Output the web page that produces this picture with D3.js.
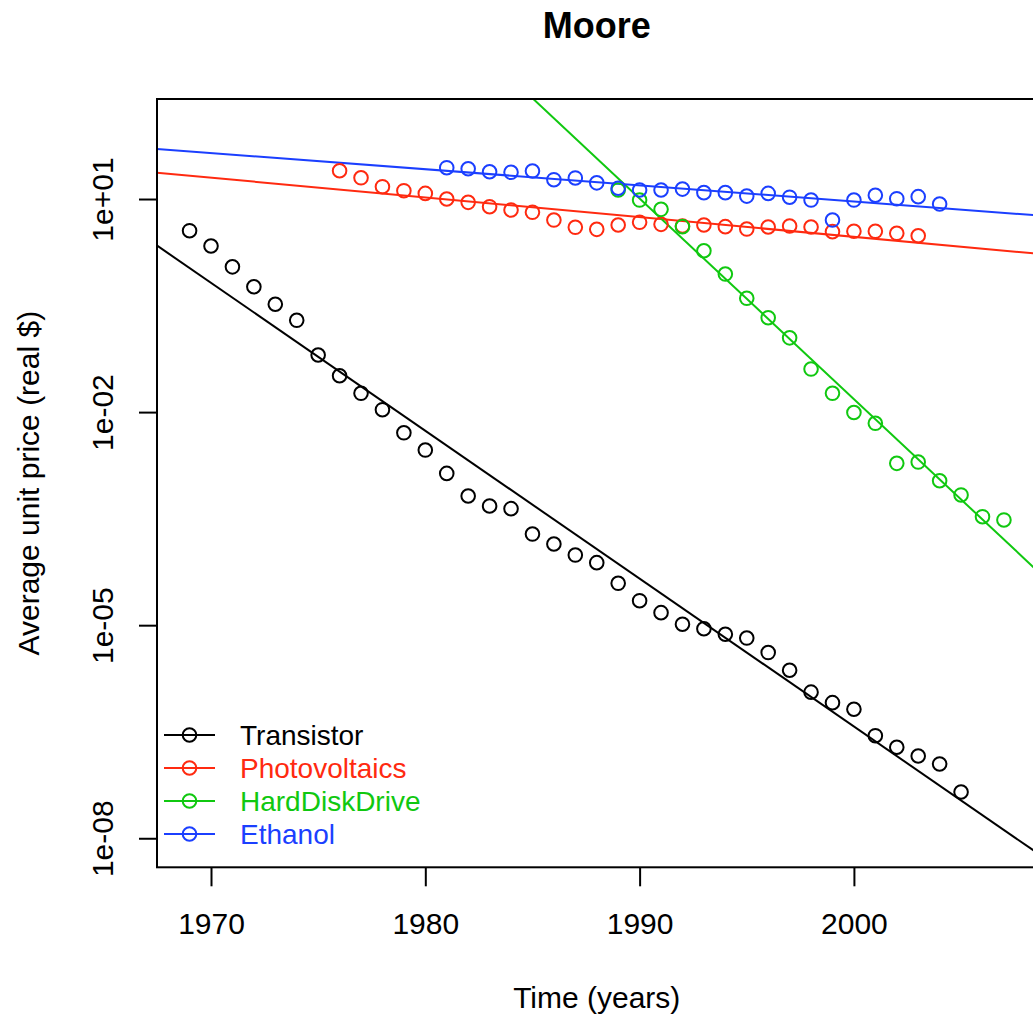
<!DOCTYPE html>
<html>
<head>
<meta charset="utf-8">
<script src="https://cdn.jsdelivr.net/npm/d3@7"></script>
<style>
  html, body { margin: 0; padding: 0; background: #fff; }
  svg { display: block; font-family: "Liberation Sans", Arial, Helvetica, sans-serif; }
</style>
</head>
<body>
<svg id="chart" width="1033" height="1017"></svg>
<script>
// ---------- data ----------
const seriesNames = ["Transistor", "Photovoltaics", "HardDiskDrive", "Ethanol"];
const seriesColors = ["#000000", "#ff2a10", "#10c810", "#1b3fff"];

const transistorYears = d3.range(1969, 2006);
const transistorPrice = [3.58, 2.18, 1.11, 0.582, 0.330, 0.196, 0.0637, 0.0325, 0.0184, 0.0108,
  0.00511, 0.00292, 0.00137, 6.59e-4, 4.76e-4, 4.37e-4, 1.92e-4, 1.39e-4, 9.72e-5, 7.59e-5,
  3.89e-5, 2.21e-5, 1.50e-5, 1.03e-5, 8.91e-6, 7.45e-6, 6.59e-6, 4.12e-6, 2.32e-6, 1.14e-6,
  8.11e-7, 6.55e-7, 2.78e-7, 1.91e-7, 1.44e-7, 1.11e-7, 4.48e-8];

const pvYears = d3.range(1976, 2004);
const pvPrice = [25.0, 19.9, 14.9, 13.1, 12.0, 10.0, 8.98, 7.80, 7.00, 6.50,
  5.06, 4.00, 3.74, 4.31, 4.70, 4.40, 4.17, 4.31, 4.08, 3.78,
  4.04, 4.17, 4.04, 3.47, 3.51, 3.51, 3.29, 3.04];

const hddYears = d3.range(1989, 2008);
const hddPrice = [13.4, 9.68, 7.16, 4.08, 1.87, 0.879, 0.400, 0.213, 0.111, 0.0404,
  0.0184, 0.00987, 0.00695, 0.00190, 0.00198, 0.00108, 6.81e-4, 3.37e-4, 3.03e-4];

const ethanolYears = d3.range(1981, 2005);
const ethanolPrice = [27.6, 26.7, 24.2, 23.8, 24.8, 18.7, 19.8, 16.9, 14.2, 13.4,
  13.4, 13.8, 12.3, 12.3, 11.0, 12.0, 10.6, 9.68, 5.06, 9.68,
  11.3, 10.1, 10.8, 8.51];

// fitted trend lines (price at 1960 and at 2010)
const trendYears = [1960, 2010];
const transistorTrend = [79.8, 3.10e-9];
const pvTrend = [37.8, 1.55];
const hddTrend = [3.03e9, 2.28e-5];
const ethanolTrend = [74.8, 5.46];

const xTickValues = [1970, 1980, 1990, 2000];
const xTickLabels = ["1970", "1980", "1990", "2000"];
const yTickValues = [10, 1e-2, 1e-5, 1e-8];
const yTickLabels = ["1e+01", "1e-02", "1e-05", "1e-08"];

const titleText = "Moore";
const xTitle = "Time (years)";
const yTitle = "Average unit price (real $)";

const series = [
  { years: transistorYears, price: transistorPrice, trend: transistorTrend },
  { years: pvYears, price: pvPrice, trend: pvTrend },
  { years: hddYears, price: hddPrice, trend: hddTrend },
  { years: ethanolYears, price: ethanolPrice, trend: ethanolTrend }
].map((s, i) => ({ ...s, name: seriesNames[i], color: seriesColors[i] }));

// ---------- layout ----------
const plot = { left: 157, right: 1036.5, top: 99, bottom: 867.3 };
const svg = d3.select("#chart");

const x = d3.scaleLinear().domain([1967.48, 2008.52]).range([plot.left, plot.right]);
const y = d3.scaleLog().domain([3.9e-9, 256]).range([plot.bottom, plot.top]);

svg.append("defs").append("clipPath").attr("id", "clip")
  .append("rect")
  .attr("x", plot.left).attr("y", plot.top)
  .attr("width", plot.right - plot.left).attr("height", plot.bottom - plot.top);

// trend lines
const lineGen = d3.line().x(d => x(d[0])).y(d => y(d[1]));
const gLines = svg.append("g").attr("clip-path", "url(#clip)");
series.forEach(s => {
  gLines.append("path")
    .attr("d", lineGen(trendYears.map((yr, i) => [yr, s.trend[i]])))
    .attr("fill", "none").attr("stroke", s.color).attr("stroke-width", 2);
});

// points
const gPts = svg.append("g").attr("clip-path", "url(#clip)");
series.forEach(s => {
  gPts.selectAll(null)
    .data(s.years.map((yr, i) => [yr, s.price[i]]))
    .join("circle")
    .attr("cx", d => x(d[0])).attr("cy", d => y(d[1]))
    .attr("r", 6.8).attr("fill", "none")
    .attr("stroke", s.color).attr("stroke-width", 2);
});

// frame
svg.append("rect")
  .attr("x", plot.left).attr("y", plot.top)
  .attr("width", plot.right - plot.left).attr("height", plot.bottom - plot.top)
  .attr("fill", "none").attr("stroke", "#000").attr("stroke-width", 2);

// x axis
const xAxis = d3.axisBottom(x).tickValues(xTickValues)
  .tickFormat((d, i) => xTickLabels[i]).tickSize(19).tickSizeOuter(0);
const gx = svg.append("g").attr("transform", `translate(0,${plot.bottom})`).call(xAxis);
gx.select(".domain").remove();
gx.selectAll(".tick line").attr("stroke", "#000").attr("stroke-width", 2);
gx.selectAll(".tick text")
  .attr("y", 934 - plot.bottom).attr("dy", null)
  .attr("font-size", 30).attr("fill", "#000")
  .attr("font-family", "Liberation Sans, Arial, sans-serif");

// y axis
const yAxis = d3.axisLeft(y).tickValues(yTickValues)
  .tickFormat((d, i) => yTickLabels[i]).tickSize(18).tickSizeOuter(0);
const gy = svg.append("g").attr("transform", `translate(${plot.left},0)`).call(yAxis);
gy.select(".domain").remove();
gy.selectAll(".tick line").attr("stroke", "#000").attr("stroke-width", 2);
gy.selectAll(".tick text")
  .attr("x", null).attr("dy", null)
  .attr("transform", `translate(${113 - plot.left},0) rotate(-90)`)
  .attr("text-anchor", "middle")
  .attr("font-size", 30).attr("fill", "#000")
  .attr("font-family", "Liberation Sans, Arial, sans-serif");

// titles
const cx = (plot.left + plot.right) / 2;
svg.append("text").attr("x", cx).attr("y", 37.5)
  .attr("text-anchor", "middle").attr("font-size", 36).attr("font-weight", "bold")
  .text(titleText);
svg.append("text").attr("x", cx).attr("y", 1008)
  .attr("text-anchor", "middle").attr("font-size", 30)
  .text(xTitle);
svg.append("text")
  .attr("transform", `translate(39,${(plot.top + plot.bottom) / 2}) rotate(-90)`)
  .attr("text-anchor", "middle").attr("font-size", 30)
  .text(yTitle);

// legend
const legendRowY = [735, 768, 801, 834];
const gLeg = svg.append("g");
series.forEach((s, i) => {
  const ly = legendRowY[i];
  gLeg.append("line").attr("x1", 164).attr("x2", 215).attr("y1", ly).attr("y2", ly)
    .attr("stroke", s.color).attr("stroke-width", 2);
  gLeg.append("circle").attr("cx", 189.5).attr("cy", ly).attr("r", 6.8)
    .attr("fill", "none").attr("stroke", s.color).attr("stroke-width", 2);
  gLeg.append("text").attr("x", 240).attr("y", ly).attr("dy", "0.36em")
    .attr("font-size", 28).attr("fill", s.color).text(s.name);
});
</script>
</body>
</html>
